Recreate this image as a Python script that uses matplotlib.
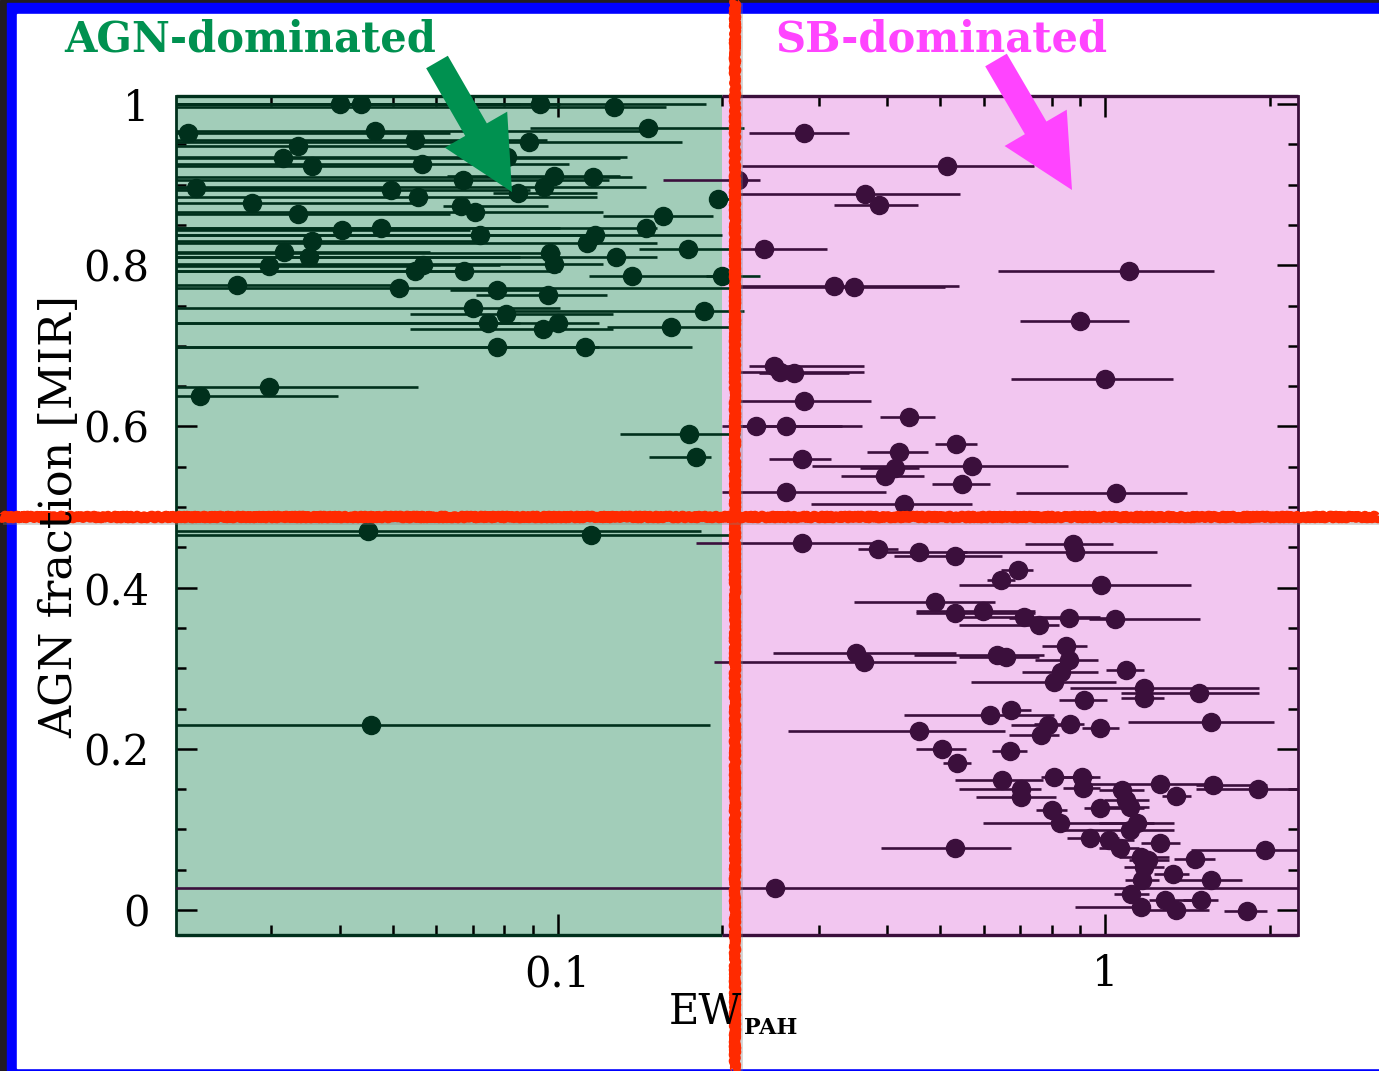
import matplotlib
matplotlib.use('Agg')
import matplotlib.pyplot as plt
import numpy as np
from matplotlib.patches import Rectangle, FancyArrow
from matplotlib.ticker import FixedLocator, NullFormatter

plt.rcParams['font.family'] = ['DejaVu Serif']

# ---------------- data ----------------
agn_x = [0.040, 0.0437, 0.0927, 0.127, 0.0211, 0.0464, 0.146, 0.055, 0.0885, 0.0336,
         0.0315, 0.0356, 0.0565, 0.081, 0.0984, 0.116, 0.0671, 0.0845, 0.0943, 0.0219,
         0.0496, 0.0555, 0.0277, 0.0665, 0.0706, 0.0336, 0.196, 0.156, 0.145, 0.0404,
         0.0475, 0.0723, 0.117, 0.113, 0.0356, 0.173, 0.0316, 0.0352, 0.0967, 0.0984,
         0.128, 0.0297, 0.0569, 0.055, 0.0674, 0.137, 0.200, 0.026, 0.0513, 0.0774,
         0.0959, 0.070, 0.185, 0.0804, 0.0745, 0.0939, 0.100, 0.161, 0.0774, 0.112,
         0.0222, 0.0297, 0.174, 0.179, 0.045, 0.115, 0.0456]
agn_y = [1.00, 1.00, 1.00, 0.996, 0.964, 0.966, 0.970, 0.955, 0.953, 0.948,
         0.933, 0.923, 0.926, 0.934, 0.911, 0.909, 0.906, 0.890, 0.897, 0.896,
         0.893, 0.885, 0.877, 0.873, 0.866, 0.864, 0.882, 0.861, 0.846, 0.844,
         0.846, 0.837, 0.837, 0.828, 0.830, 0.820, 0.816, 0.810, 0.815, 0.801,
         0.810, 0.799, 0.800, 0.793, 0.793, 0.787, 0.787, 0.775, 0.772, 0.769,
         0.763, 0.747, 0.743, 0.739, 0.728, 0.721, 0.728, 0.723, 0.698, 0.698,
         0.638, 0.649, 0.591, 0.562, 0.470, 0.465, 0.230]
agn_xlo = [0.005, 0.005, 0.005, 0.005, 0.005, 0.005, 0.0889, 0.005, 0.005, 0.005,
           0.005, 0.005, 0.005, 0.005, 0.0627, 0.005, 0.005, 0.0761, 0.005, 0.005,
           0.005, 0.005, 0.005, 0.0617, 0.005, 0.005, 0.189, 0.121, 0.005, 0.005,
           0.005, 0.005, 0.005, 0.005, 0.005, 0.141, 0.005, 0.005, 0.005, 0.005,
           0.005, 0.005, 0.005, 0.005, 0.005, 0.114, 0.187, 0.005, 0.005, 0.0635,
           0.0711, 0.005, 0.0817, 0.0537, 0.005, 0.0537, 0.005, 0.123, 0.005, 0.005,
           0.005, 0.005, 0.130, 0.147, 0.005, 0.005, 0.005]
agn_xhi = [0.0853, 0.101, 0.187, 0.158, 0.0635, 0.145, 0.219, 0.0955, 0.169, 0.0721,
           0.130, 0.0584, 0.105, 0.134, 0.130, 0.137, 0.124, 0.118, 0.145, 0.0494,
           0.0889, 0.118, 0.056, 0.0959, 0.121, 0.0635, 0.210, 0.192, 0.152, 0.0691,
           0.101, 0.119, 0.200, 0.152, 0.0721, 0.206, 0.0584, 0.0853, 0.101, 0.121,
           0.152, 0.056, 0.0784, 0.0691, 0.101, 0.202, 0.234, 0.0515, 0.215, 0.0967,
           0.123, 0.101, 0.219, 0.126, 0.0853, 0.126, 0.119, 0.215, 0.119, 0.176,
           0.0398, 0.0555, 0.215, 0.191, 0.183, 0.215, 0.190]

sb_x = [0.282, 0.515, 0.214, 0.365, 0.387, 0.238, 1.106, 0.320, 0.348, 0.900,
        1.000, 0.248, 0.255, 0.270, 0.282, 0.439, 0.230, 0.261, 0.535, 0.421,
        0.572, 0.397, 0.414, 0.279, 0.261, 0.548, 1.047, 0.430, 0.280, 0.385,
        0.458, 0.532, 0.875, 0.881, 0.694, 0.646, 0.983, 0.488, 0.532, 0.598,
        0.712, 0.758, 0.859, 1.043, 0.351, 0.362, 0.635, 0.660, 0.849, 0.859,
        0.831, 0.807, 1.092, 1.178, 1.178, 1.484, 0.916, 1.561, 0.617, 0.674,
        0.458, 0.787, 0.764, 0.863, 0.979, 0.504, 0.671, 0.537, 0.649, 0.807,
        0.908, 0.912, 0.703, 0.703, 1.074, 1.092, 1.111, 1.260, 1.574, 1.901,
        1.347, 0.800, 0.979, 0.828, 1.144, 1.111, 0.939, 1.017, 1.065, 1.260,
        0.532, 1.958, 1.163, 1.198, 1.178, 1.459, 1.331, 1.561, 1.168, 0.250,
        1.115, 1.163, 1.287, 1.347, 1.497, 1.816]
sb_y = [0.964, 0.923, 0.906, 0.888, 0.875, 0.820, 0.793, 0.774, 0.773, 0.731,
        0.659, 0.675, 0.667, 0.666, 0.632, 0.612, 0.600, 0.600, 0.578, 0.568,
        0.551, 0.538, 0.548, 0.560, 0.519, 0.529, 0.517, 0.504, 0.455, 0.448,
        0.444, 0.439, 0.454, 0.444, 0.422, 0.409, 0.403, 0.382, 0.368, 0.371,
        0.364, 0.354, 0.362, 0.361, 0.319, 0.308, 0.316, 0.314, 0.328, 0.310,
        0.295, 0.283, 0.298, 0.275, 0.263, 0.269, 0.261, 0.233, 0.242, 0.248,
        0.222, 0.230, 0.217, 0.231, 0.226, 0.200, 0.197, 0.182, 0.161, 0.165,
        0.165, 0.151, 0.150, 0.140, 0.149, 0.136, 0.128, 0.156, 0.155, 0.150,
        0.141, 0.124, 0.127, 0.108, 0.108, 0.099, 0.089, 0.087, 0.077, 0.083,
        0.077, 0.074, 0.066, 0.062, 0.053, 0.063, 0.045, 0.037, 0.037, 0.027,
        0.020, 0.004, 0.012, 0.000, 0.012, -0.001]
sb_xlo = [0.224, 0.217, 0.156, 0.215, 0.320, 0.215, 0.638, 0.215, 0.215, 0.700,
          0.674, 0.224, 0.215, 0.233, 0.210, 0.388, 0.200, 0.215, 0.488, 0.368,
          0.291, 0.330, 0.356, 0.243, 0.200, 0.483, 0.688, 0.290, 0.179, 0.353,
          0.372, 0.412, 0.715, 0.535, 0.646, 0.609, 0.542, 0.348, 0.452, 0.452,
          0.535, 0.542, 0.668, 0.935, 0.247, 0.193, 0.448, 0.542, 0.767, 0.745,
          0.706, 0.569, 1.004, 0.863, 1.069, 1.069, 0.824, 1.101, 0.430, 0.649,
          0.264, 0.674, 0.668, 0.742, 0.908, 0.452, 0.622, 0.506, 0.532, 0.764,
          0.838, 0.838, 0.542, 0.582, 0.975, 0.996, 1.017, 0.935, 1.466, 1.466,
          1.271, 0.748, 0.916, 0.598, 0.975, 0.824, 0.853, 0.935, 0.975, 1.163,
          0.390, 1.435, 1.061, 1.106, 1.083, 1.337, 1.228, 1.347, 1.087, 0.005,
          1.038, 0.881, 1.203, 1.203, 1.390, 1.649]
sb_xhi = [0.341, 0.742, 0.234, 0.544, 0.456, 0.311, 1.580, 0.542, 0.511, 1.106,
          1.331, 0.362, 0.362, 0.341, 0.373, 0.488, 0.359, 0.331, 0.584, 0.475,
          0.856, 0.466, 0.458, 0.316, 0.398, 0.617, 1.411, 0.572, 0.392, 0.419,
          0.560, 0.649, 1.034, 1.244, 0.739, 0.685, 1.435, 0.630, 0.745, 0.745,
          0.979, 0.824, 1.017, 1.489, 0.535, 0.535, 0.774, 0.758, 0.927, 0.971,
          0.971, 1.047, 1.178, 1.910, 1.280, 1.910, 1.008, 2.033, 0.807, 0.733,
          0.657, 0.849, 0.824, 0.916, 1.061, 0.557, 0.721, 0.569, 0.770, 0.951,
          0.979, 0.979, 0.764, 0.814, 1.178, 1.203, 1.203, 1.561, 1.975, 2.300,
          1.435, 0.853, 1.178, 1.228, 1.337, 1.337, 1.061, 1.130, 1.153, 1.370,
          0.674, 2.300, 1.310, 1.310, 1.280, 1.587, 1.422, 1.778, 1.255, 5.000,
          1.203, 1.180, 1.484, 1.550, 1.610, 1.975]

x_ticks = [0.1, 1]
x_ticklabels = ['0.1', '1']
y_ticks = [0, 0.2, 0.4, 0.6, 0.8, 1.0]
y_ticklabels = ['0', '0.2', '0.4', '0.6', '0.8', '1']
x_minor = [0.03, 0.04, 0.05, 0.06, 0.07, 0.08, 0.09,
           0.2, 0.3, 0.4, 0.5, 0.6, 0.7, 0.8, 0.9, 2.0]
y_minor = [0.05, 0.1, 0.15, 0.25, 0.3, 0.35, 0.45, 0.5, 0.55,
           0.65, 0.7, 0.75, 0.85, 0.9, 0.95]
boundary = 0.2
XMIN, XMAX = 0.0201, 2.25
YMIN, YMAX = -0.031, 1.01

# ---------------- styling ----------------
G_DARK = '#00301c'
P_DARK = '#3b0f3c'
G_FILL = '#a2cdb9'
P_FILL = '#f2c6f0'
RED = '#ff2a00'

W, H = 1379, 1071
fig = plt.figure(figsize=(W / 100, H / 100), dpi=100)

# background frame
bg = fig.add_axes([0, 0, 1, 1], zorder=0)
bg.set_xlim(0, W); bg.set_ylim(H, 0); bg.axis('off')
bg.add_patch(Rectangle((0, 0), W, H, color='#221c20'))
bg.add_patch(Rectangle((7, 3), W - 7, H - 3, color='#0000ff'))
bg.add_patch(Rectangle((17, 14), W - 17, H - 14 - 3, color='white'))

# main axes
L, R, T, B = 176, 1298, 96, 935
ax = fig.add_axes([L / W, 1 - B / H, (R - L) / W, (B - T) / H], zorder=1)
ax.set_xscale('log')
ax.set_xlim(XMIN, XMAX)
ax.set_ylim(YMIN, YMAX)
ax.axvspan(XMIN, boundary, color=G_FILL, zorder=0, lw=0)
ax.axvspan(boundary, XMAX, color=P_FILL, zorder=0, lw=0)

ax_ = np.array(agn_x); sx = np.array(sb_x)
ax.errorbar(agn_x, agn_y,
            xerr=[ax_ - np.array(agn_xlo), np.array(agn_xhi) - ax_],
            fmt='o', color=G_DARK, ms=13, elinewidth=1.9, capsize=0, zorder=3)
ax.errorbar(sb_x, sb_y,
            xerr=[sx - np.array(sb_xlo), np.array(sb_xhi) - sx],
            fmt='o', color=P_DARK, ms=13, elinewidth=1.9, capsize=0, zorder=3)

# ticks
ax.xaxis.set_major_locator(FixedLocator(x_ticks))
ax.xaxis.set_minor_locator(FixedLocator(x_minor))
ax.xaxis.set_minor_formatter(NullFormatter())
ax.set_xticklabels(x_ticklabels)
ax.yaxis.set_major_locator(FixedLocator(y_ticks))
ax.yaxis.set_minor_locator(FixedLocator(y_minor))
ax.set_yticklabels(y_ticklabels)
ax.tick_params(which='both', direction='in', top=True, right=True, width=1.8,
               labelsize=30)
ax.tick_params(which='major', length=15)
ax.tick_params(which='minor', length=7.5)
ax.tick_params(axis='y', pad=19)
ax.tick_params(axis='x', pad=13)

# spines
for s in ['top', 'bottom']:
    ax.spines[s].set_visible(False)
ax.spines['left'].set_color(G_DARK); ax.spines['left'].set_linewidth(2.0)
ax.spines['right'].set_color(P_DARK); ax.spines['right'].set_linewidth(2.0)
for yv in (0, 1):
    ax.plot([XMIN, boundary], [yv, yv], transform=ax.get_xaxis_transform(),
            color=G_DARK, lw=2.4, clip_on=False, zorder=5, solid_capstyle='butt')
    ax.plot([boundary, XMAX], [yv, yv], transform=ax.get_xaxis_transform(),
            color=P_DARK, lw=2.4, clip_on=False, zorder=5, solid_capstyle='butt')

# colour ticks by region
for t, loc in zip(ax.xaxis.get_major_ticks(len(x_ticks)), x_ticks):
    c = G_DARK if loc < boundary else P_DARK
    t.tick1line.set_color(c); t.tick2line.set_color(c)
for t, loc in zip(ax.xaxis.get_minor_ticks(len(x_minor)), x_minor):
    c = G_DARK if loc < boundary else P_DARK
    t.tick1line.set_color(c); t.tick2line.set_color(c)
for t in ax.yaxis.get_major_ticks(len(y_ticks)) + ax.yaxis.get_minor_ticks(len(y_minor)):
    t.tick1line.set_color(G_DARK); t.tick2line.set_color(P_DARK)

# foreground overlay: annotations
fg = fig.add_axes([0, 0, 1, 1], zorder=5)
fg.set_xlim(0, W); fg.set_ylim(H, 0); fg.axis('off')
fg.patch.set_alpha(0)

fg.text(250, 40, 'AGN-dominated', color='#009150', fontsize=30,
        fontweight='bold', ha='center', va='center')
fg.text(941, 40, 'SB-dominated', color='#ff44ff', fontsize=30,
        fontweight='bold', ha='center', va='center')
fg.add_patch(FancyArrow(437, 62, 75, 130, width=25, head_width=72,
                        head_length=72, length_includes_head=True,
                        color='#009150', lw=0))
fg.add_patch(FancyArrow(996, 60, 76, 130, width=25, head_width=72,
                        head_length=72, length_includes_head=True,
                        color='#ff44ff', lw=0))

fg.text(60, 517, 'AGN fraction [MIR]', rotation=90, fontsize=32,
        ha='center', va='center')
fg.text(705, 1012, 'EW', fontsize=30, ha='center', va='center')
fg.text(771, 1028, 'PAH', fontsize=16, fontweight='bold', ha='center', va='center')

# hand-drawn red lines
for xs, ys in (([735, 735], [0, H]), ([0, W], [517, 517])):
    fg.plot(np.array(xs) + 3, np.array(ys) + 3, color='grey', alpha=0.35,
            lw=7, solid_capstyle='butt')
    ln, = fg.plot(xs, ys, color=RED, lw=7, solid_capstyle='butt')
    ln.set_sketch_params(scale=1.5, length=6, randomness=3)

fig.savefig('out.png', dpi=100)
